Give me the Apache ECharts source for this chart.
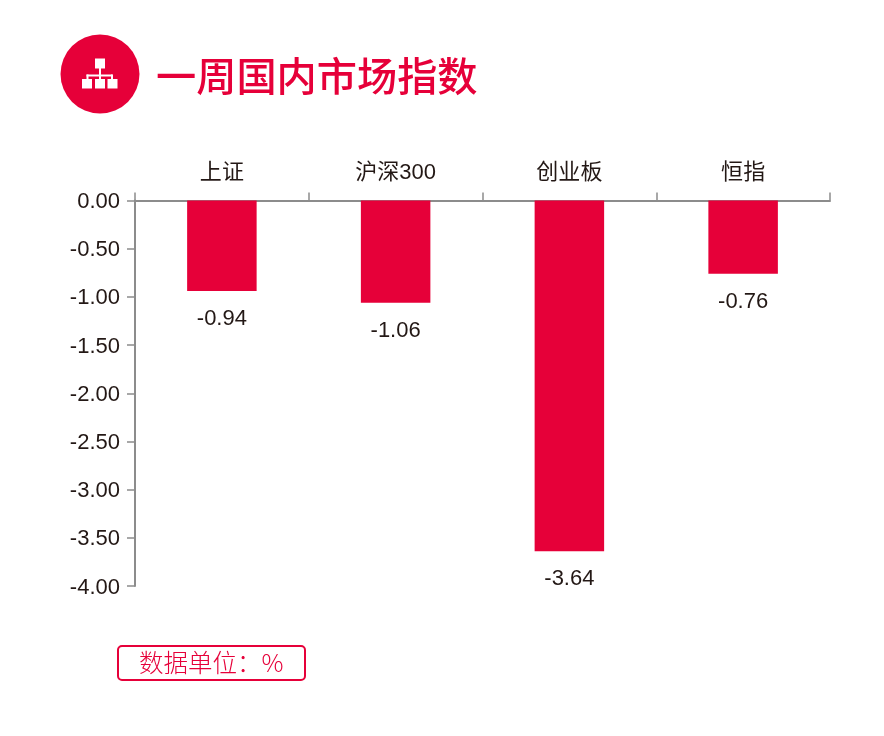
<!DOCTYPE html>
<html>
<head>
<meta charset="utf-8">
<style>
    html, body { margin: 0; padding: 0; background: #fff; }
    #chart { width: 884px; height: 736px; }
</style>
<script src="https://cdn.jsdelivr.net/npm/echarts@6/dist/echarts.min.js"></script>
</head>
<body>
<div id="chart"></div>
<script>
var categories = ['上证', '沪深300', '创业板', '恒指'];
var values = [-0.94, -1.06, -3.64, -0.76];
var titleText = '一周国内市场指数';
var unitText = '数据单位：%';

var red = '#e60039';
var axisColor = '#8c8c8c';
var textColor = '#231815';
var latin = '"Liberation Sans", "Noto Sans CJK SC", sans-serif';

var myChart = echarts.init(document.getElementById('chart'));

// 标题图标（圆 + 组织结构小方块）
function iconParts() {
    var parts = [{ type: 'circle', shape: { cx: 100, cy: 74, r: 39.5 }, style: { fill: red } }];
    var boxes = [[95, 58.5, 10, 10], [82, 79, 10, 9.5], [95, 79, 10, 9.5], [107.5, 79, 10, 9.5]];
    var lines = [[99, 68, 2, 7], [86.5, 74.5, 26, 2], [86.5, 74.5, 2, 5], [99, 74.5, 2, 5], [111, 74.5, 2, 5]];
    boxes.concat(lines).forEach(function (b) {
        parts.push({ type: 'rect', shape: { x: b[0], y: b[1], width: b[2], height: b[3] }, style: { fill: '#fff' } });
    });
    return parts;
}

var option = {
    animation: false,
    backgroundColor: '#fff',
    grid: { left: 135, right: 54, top: 200.5, bottom: 150 },
    xAxis: {
        type: 'category',
        position: 'top',
        data: categories,
        axisLine: { lineStyle: { color: axisColor, width: 2 } },
        axisTick: { show: true, alignWithLabel: false, length: 8, lineStyle: { color: axisColor, width: 1.5 } },
        axisLabel: { color: textColor, fontSize: 22, fontFamily: latin, margin: 17 }
    },
    yAxis: {
        type: 'value',
        min: -4,
        max: 0,
        interval: 0.5,
        axisLine: { show: true, lineStyle: { color: axisColor, width: 2 } },
        axisTick: { show: true, length: 8, lineStyle: { color: axisColor, width: 1.5 } },
        axisLabel: {
            color: textColor,
            fontSize: 22,
            fontFamily: latin,
            margin: 15,
            verticalAlign: 'top',
            lineHeight: 3,
            formatter: function (v) { return v.toFixed(2); }
        },
        splitLine: { show: false }
    },
    series: [
        {
            type: 'bar',
            barWidth: '40%',
            data: values,
            itemStyle: { color: red },
            label: {
                show: true,
                position: 'bottom',
                distance: 17,
                color: textColor,
                fontSize: 22,
                fontFamily: latin,
                formatter: function (p) { return p.value.toFixed(2); }
            }
        }
    ],
    graphic: iconParts().concat([
        {
            type: 'text',
            left: 156,
            top: 56,
            style: {
                text: titleText,
                fill: red,
                font: '500 40.2px "Noto Sans CJK SC", sans-serif'
            }
        },
        {
            type: 'rect',
            shape: { x: 118, y: 646, width: 187, height: 34, r: 4 },
            style: { fill: '#fff', stroke: red, lineWidth: 2 }
        },
        {
            type: 'text',
            left: 139,
            top: 650,
            style: {
                text: unitText,
                fill: red,
                font: '300 24.5px "Noto Sans CJK SC", sans-serif'
            }
        }
    ])
};

myChart.setOption(option);
</script>
</body>
</html>
